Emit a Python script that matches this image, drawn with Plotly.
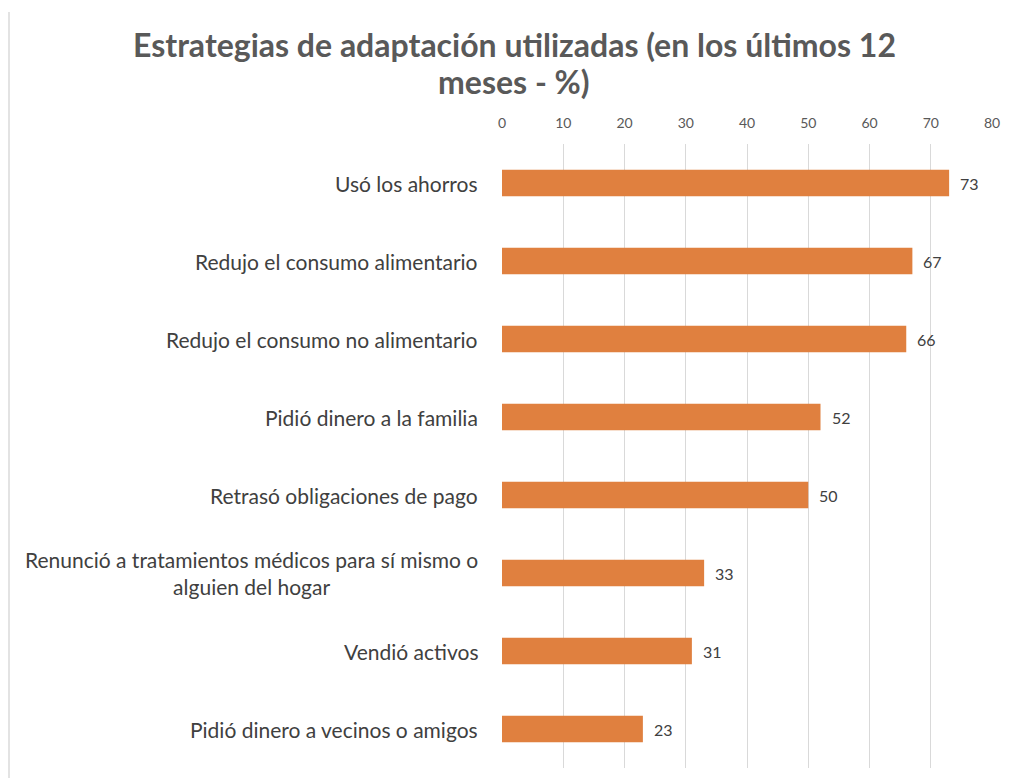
import plotly.graph_objects as go

title_lines = [
    "Estrategias de adaptación utilizadas (en los últimos 12",
    "meses - %)",
]
categories = [
    "Usó los ahorros",
    "Redujo el consumo alimentario",
    "Redujo el consumo no alimentario",
    "Pidió dinero a la familia",
    "Retrasó obligaciones de pago",
    "Renunció a tratamientos médicos para sí mismo o<br>alguien del hogar",
    "Vendió activos",
    "Pidió dinero a vecinos o amigos",
]
values = [73, 67, 66, 52, 50, 33, 31, 23]
x_ticks = [0, 10, 20, 30, 40, 50, 60, 70, 80]

W, H = 1001, 770  # page adds an 8px body margin
L, R, T, B = 494, 17, 136, 10
PW, PH = W - L - R, H - T - B

fig = go.Figure()
fig.add_trace(go.Bar(
    y=list(range(len(categories))),
    x=values,
    orientation="h",
    marker=dict(color="#E0803F", line=dict(width=0)),
    width=0.34,
    hoverinfo="x+y",
))

for i, c in enumerate(categories):
    fig.add_annotation(
        x=0, xref="paper", y=i, yref="y",
        text=c, showarrow=False, xanchor="right", yanchor="middle",
        xshift=-22, align="center",
        font=dict(family="Lato", size=21, color="#404040"),
    )

for i, v in enumerate(values):
    fig.add_annotation(
        x=v, xref="x", y=i, yref="y",
        text=str(v), showarrow=False, xanchor="left", yanchor="middle",
        xshift=9,
        font=dict(family="Lato", size=16, color="#404040"),
    )

# title as two lines with tight spacing
for k, (line, ypx) in enumerate(zip(title_lines, [37, 74])):
    fig.add_annotation(
        x=(514 - 8 - L) / PW, xref="paper",
        y=1 + (T - ypx) / PH, yref="paper",
        text=line, showarrow=False, xanchor="center", yanchor="middle",
        font=dict(family="Lato", size=32, color="#595959", weight="bold"),
    )

# faint vertical line along the left edge
xl = (1 - L) / PW
fig.add_shape(type="line", xref="paper", yref="paper",
              x0=xl, x1=xl, y0=-B / PH, y1=1 + (T - 4) / PH,
              line=dict(color="#E3E3E3", width=2))

fig.update_layout(
    width=W, height=H,
    margin=dict(l=L, r=R, t=T, b=B),
    paper_bgcolor="white", plot_bgcolor="white",
    showlegend=False,
    xaxis=dict(
        side="top", range=[0, 80], tickvals=x_ticks,
        showgrid=True, gridcolor="#D9D9D9", gridwidth=1,
        zeroline=False, showline=False, ticks="",
        tickfont=dict(family="Lato", size=14, color="#595959"),
        ticklabelstandoff=12,
    ),
    yaxis=dict(
        range=[len(categories) - 0.5, -0.5],
        showticklabels=False, showgrid=False, zeroline=False, ticks="",
    ),
)

fig.write_html("out.html")
